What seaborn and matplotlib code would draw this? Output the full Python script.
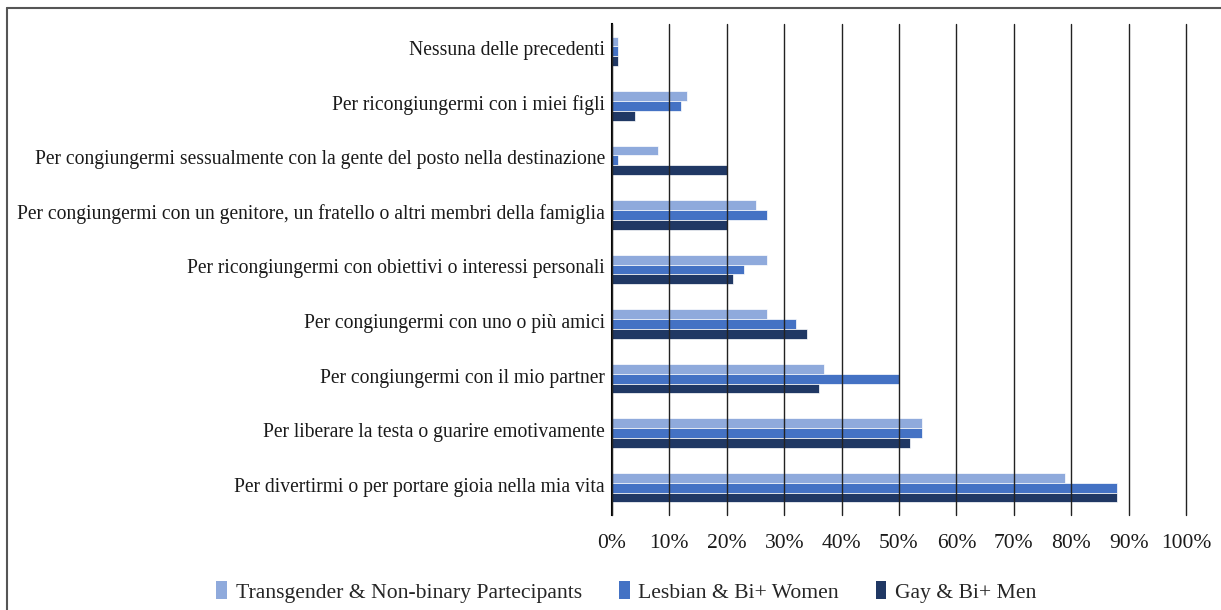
import numpy as np
import pandas as pd
import seaborn as sns
import matplotlib.pyplot as plt
from matplotlib.lines import Line2D
from matplotlib.patches import Patch
from matplotlib.transforms import ScaledTranslation

# categories, top to bottom as shown in the chart
categories = [
    "Nessuna delle precedenti",
    "Per ricongiungermi con i miei figli",
    "Per congiungermi sessualmente con la gente del posto nella destinazione",
    "Per congiungermi con un genitore, un fratello o altri membri della famiglia",
    "Per ricongiungermi con obiettivi o interessi personali",
    "Per congiungermi con uno o più amici",
    "Per congiungermi con il mio partner",
    "Per liberare la testa o guarire emotivamente",
    "Per divertirmi o per portare gioia nella mia vita",
]

series_names = ["Transgender & Non-binary Partecipants", "Lesbian & Bi+ Women", "Gay & Bi+ Men"]
trans_vals = [0.01, 0.13, 0.08, 0.25, 0.27, 0.27, 0.37, 0.54, 0.79]
lesbian_vals = [0.01, 0.12, 0.01, 0.27, 0.23, 0.32, 0.50, 0.54, 0.88]
gay_vals = [0.01, 0.04, 0.20, 0.20, 0.21, 0.34, 0.36, 0.52, 0.88]
colors = ["#8FAADC", "#4472C4", "#203864"]

x_ticks = [0, 0.1, 0.2, 0.3, 0.4, 0.5, 0.6, 0.7, 0.8, 0.9, 1.0]
x_tick_labels = ["0%", "10%", "20%", "30%", "40%", "50%", "60%", "70%", "80%", "90%", "100%"]

rows = []
for name, vals in zip(series_names, [trans_vals, lesbian_vals, gay_vals]):
    for cat, v in zip(categories, vals):
        rows.append({"categoria": cat, "valore": v, "gruppo": name})
df = pd.DataFrame(rows)

sns.set_theme(style="white")
plt.rcParams["font.family"] = ["Liberation Serif", "DejaVu Serif"]

fig = plt.figure(figsize=(12.21, 6.10), dpi=100)
ax = fig.add_axes([612 / 1221, 1 - 515 / 610, (1186 - 612) / 1221, (515 - 24) / 610])

sns.barplot(data=df, y="categoria", x="valore", hue="gruppo", order=categories,
            hue_order=series_names, palette=colors, saturation=1, orient="h", width=0.54,
            gap=0, edgecolor="white", linewidth=0.5, ax=ax, legend=False)

ax.set_xlim(0, 1.0)
ax.set_ylim(len(categories) - 0.5, -0.5)
ax.set_xticks(x_ticks)
ax.set_xticklabels(x_tick_labels, fontsize=15.5, color="#1a1a1a")
ax.tick_params(axis="x", length=0, pad=14)
ax.tick_params(axis="y", which="major", length=0, pad=5, labelsize=14.1, labelcolor="#1a1a1a")
ax.set_yticks(np.arange(-0.5, len(categories), 1.0), minor=True)
ax.tick_params(axis="y", which="minor", length=5, width=1.5, color="black", direction="out")
ax.set_xlabel("")
ax.set_ylabel("")

# category labels sit slightly above the group centre in the original
shift = ScaledTranslation(0, 3 / 100, fig.dpi_scale_trans)
for lbl in ax.get_yticklabels():
    lbl.set_transform(lbl.get_transform() + shift)

ax.grid(axis="x", color="#222222", linewidth=1.0)
ax.grid(axis="y", visible=False)
ax.set_axisbelow(False)
for gl in ax.get_xgridlines():
    gl.set_clip_on(False)
for side in ["top", "right", "bottom"]:
    ax.spines[side].set_visible(False)
ax.spines["left"].set_color("black")
ax.spines["left"].set_linewidth(1.5)

handles = [Patch(facecolor=c, edgecolor="none", label=n) for c, n in zip(colors, series_names)]
fig.legend(handles=handles, loc="center", bbox_to_anchor=(0.513, 1 - 592 / 610), ncol=3,
           frameon=False, fontsize=15.6, handlelength=0.5, handleheight=0.9,
           handletextpad=0.4, columnspacing=1.7)

# outer border of the chart area
fig.add_artist(Line2D([7 / 1221, 1.0], [1 - 8 / 610, 1 - 8 / 610], color="#555555", linewidth=1.5))
fig.add_artist(Line2D([7 / 1221, 7 / 1221], [0, 1 - 8 / 610], color="#555555", linewidth=1.5))

fig.savefig("out.png", dpi=100)
